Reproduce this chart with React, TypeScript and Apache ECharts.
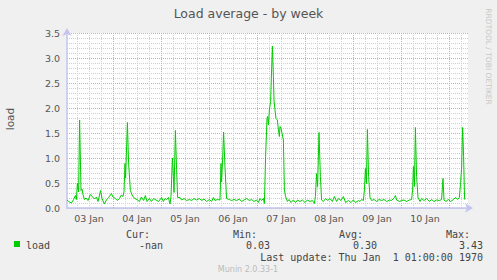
import React, { useEffect, useRef } from "react";
import * as echarts from "echarts";

// hours since 03 Jan 00:00
const hours = [
  1.0, 1.8, 3.2, 4.3, 5.2, 5.7, 6.2, 6.8, 7.3, 8.0, 8.5, 9.0, 9.7, 10.5, 11.5, 12.7, 13.8, 14.8, 15.7, 16.5,
  17.8, 18.5, 19.7, 20.7, 21.8, 23.2, 24.0, 25.2, 26.2, 27.2, 28.2, 29.0, 29.5, 30.0, 30.3, 31.2, 31.8, 32.7,
  33.5, 34.8, 36.0, 37.2, 38.2, 39.3, 40.2, 41.0, 42.2, 43.2, 44.3, 45.5, 46.8, 48.3, 49.2, 50.0, 50.8, 51.7,
  52.5, 53.0, 53.7, 54.2, 54.5, 55.2, 55.8, 56.3, 57.5, 58.3, 59.5, 60.8, 62.2, 63.3, 64.5, 65.8, 67.2, 68.3,
  69.5, 70.8, 72.2, 73.3, 74.2, 75.0, 76.2, 77.5, 78.0, 78.3, 78.8, 79.3, 80.0, 80.8, 82.2, 83.3, 84.5, 85.8,
  87.2, 88.3, 89.5, 90.8, 92.2, 93.3, 94.5, 95.8, 96.7, 97.5, 98.3, 99.2, 99.7, 100.3, 101.0, 101.3, 101.7,
  102.2, 102.8, 103.3, 103.7, 104.2, 104.5, 105.0, 105.5, 106.2, 106.7, 107.2, 107.5, 108.0, 108.7, 109.2,
  109.7, 110.3, 111.2, 112.0, 113.0, 114.2, 115.3, 116.3, 117.5, 118.7, 120.0, 121.2, 122.5, 123.7, 124.7,
  125.2, 125.8, 126.3, 127.0, 127.7, 128.3, 129.2, 130.3, 131.3, 132.5, 133.7, 134.7, 135.8, 136.7, 138.0,
  139.2, 140.3, 141.7, 143.0, 144.2, 145.3, 146.7, 147.5, 148.3, 149.2, 149.7, 150.2, 150.7, 151.2, 151.8,
  152.5, 153.3, 154.5, 155.8, 157.0, 158.3, 159.5, 160.8, 162.2, 163.3, 164.7, 165.2, 165.8, 167.2, 168.3,
  169.5, 170.8, 172.2, 173.3, 173.8, 174.2, 174.7, 175.2, 175.8, 176.5, 177.5, 178.3, 179.5, 180.8, 182.2,
  183.3, 184.5, 185.8, 187.2, 188.3, 189.0, 189.5, 190.5, 191.7, 192.8, 194.2, 195.3, 196.3, 197.2, 197.8,
  198.3, 198.8, 199.3, 199.8,
];

const loadValues = [
  0.16, 0.13, 0.1, 0.17, 0.25, 0.17, 0.5, 0.32, 1.76, 0.35, 0.38, 0.27, 0.17, 0.2, 0.15, 0.27, 0.22, 0.18, 0.22, 0.13,
  0.35, 0.19, 0.08, 0.16, 0.21, 0.29, 0.22, 0.19, 0.15, 0.19, 0.26, 0.23, 0.33, 0.89, 0.6, 1.71, 0.89, 0.35,
  0.26, 0.19, 0.17, 0.13, 0.22, 0.15, 0.25, 0.13, 0.19, 0.13, 0.19, 0.16, 0.13, 0.21, 0.13, 0.19, 0.17, 0.21,
  0.08, 0.23, 1.0, 0.63, 0.31, 1.55, 0.77, 0.21, 0.21, 0.16, 0.19, 0.15, 0.17, 0.15, 0.19, 0.16, 0.19, 0.15,
  0.18, 0.13, 0.17, 0.13, 0.21, 0.15, 0.17, 0.16, 0.89, 0.52, 0.96, 1.52, 0.8, 0.19, 0.17, 0.15, 0.17, 0.15,
  0.18, 0.13, 0.16, 0.19, 0.15, 0.17, 0.13, 0.16, 0.11, 0.19, 0.15, 0.19, 0.09, 1.03, 1.79, 1.83, 1.66,
  1.96, 2.13, 2.76, 3.24, 2.63, 2.16, 1.96, 1.79, 1.76, 1.56, 1.43, 1.63, 1.59, 1.46, 1.36,
  0.36, 0.23, 0.13, 0.17, 0.11, 0.16, 0.11, 0.16, 0.13, 0.16, 0.11, 0.16, 0.13, 0.15, 0.09,
  0.23, 0.69, 0.43, 1.51, 0.63, 0.16, 0.13, 0.19, 0.15, 0.19, 0.13, 0.23, 0.13, 0.19, 0.15,
  0.23, 0.11, 0.15, 0.11, 0.16, 0.11, 0.15, 0.13, 0.17, 0.15, 0.36, 0.79, 0.49, 1.57, 0.63,
  0.21, 0.15, 0.17, 0.13, 0.17, 0.15, 0.17, 0.13, 0.16, 0.15, 0.21, 0.25, 0.16, 0.13, 0.15,
  0.16, 0.13, 0.16, 0.17, 0.36, 0.83, 0.43, 1.61, 0.63, 0.21, 0.13, 0.19, 0.15, 0.19, 0.13,
  0.17, 0.13, 0.16, 0.15, 0.17, 0.59, 0.16, 0.13, 0.17, 0.13, 0.17, 0.21, 0.17, 0.21, 0.51,
  0.8, 1.61, 1.03, 0.17,
];

const dayLabels = ["03 Jan", "04 Jan", "05 Jan", "06 Jan", "07 Jan", "08 Jan", "09 Jan", "10 Jan"];
const dayLabelHours = [12, 36, 60, 84, 108, 132, 156, 180];
const minorGridHours = [6, 12, 18, 30, 36, 42, 54, 60, 66, 78, 84, 90, 102, 108, 114, 126, 132, 138, 150, 156, 162, 174, 180, 186, 198];
const majorGridHours = [24, 48, 72, 96, 120, 144, 168, 192];

const legendHeaders = ["Cur:", "Min:", "Avg:", "Max:"];
const legendValues = ["-nan", "0.03", "0.30", "3.43"];

export default function App() {
  const ref = useRef<HTMLDivElement>(null);
  useEffect(() => {
    document.body.style.margin = "0";
    const chart = echarts.init(ref.current!, null, { renderer: "svg" });
    const data = hours.map((h, i) => [h, loadValues[i]]);
    const mono = "DejaVu Sans Mono";
    const sans = "DejaVu Sans";
    const headerRight = [150, 257, 363, 470];
    const valueRight = [163, 270, 377, 483];
    const gridLines = [
      ...minorGridHours.map((h) => ({ xAxis: h, lineStyle: { color: "#cfcfcf", type: [1, 1], width: 1 } })),
      ...majorGridHours.map((h) => ({ xAxis: h, lineStyle: { color: "#eaa0a0", type: [1, 1], width: 1 } })),
    ];
    chart.setOption({
      animation: false,
      backgroundColor: "#f0f0f0",
      grid: {
        left: 67,
        right: 29,
        top: 33,
        bottom: 72,
        show: true,
        backgroundColor: "#ffffff",
        borderWidth: 0,
      },
      xAxis: {
        type: "value",
        min: 1,
        max: 201.5,
        axisLine: {
          show: true,
          lineStyle: { color: "#c4c4ee", width: 1.5 },
          symbol: ["none", "arrow"],
          symbolSize: [7, 8],
          symbolOffset: [0, 5],
        },
        axisTick: { show: false },
        splitLine: { show: false },
        axisLabel: {
          customValues: dayLabelHours,
          formatter: (v: number) => dayLabels[dayLabelHours.indexOf(Math.round(v))] ?? "",
          color: "#555",
          fontFamily: sans,
          fontSize: 9.5,
          margin: 5,
        },
      },
      yAxis: {
        type: "value",
        min: 0,
        max: 3.5,
        interval: 0.5,
        axisLine: {
          show: true,
          lineStyle: { color: "#c4c4ee", width: 1.5 },
          symbol: ["none", "arrow"],
          symbolSize: [7, 8],
          symbolOffset: [0, 5],
        },
        axisTick: { show: false },
        axisLabel: {
          formatter: (v: number) => v.toFixed(1),
          color: "#555",
          fontFamily: sans,
          fontSize: 9.5,
          margin: 7,
        },
        splitLine: { show: true, lineStyle: { color: "#eaa0a0", type: [1, 1], width: 1 } },
        minorTick: { show: false, splitNumber: 5 },
        minorSplitLine: { show: true, lineStyle: { color: "#cfcfcf", type: [1, 1], width: 1 } },
      },
      series: [
        {
          type: "line",
          data: [[1, 0]],
          symbol: "none",
          lineStyle: { opacity: 0 },
          silent: true,
          z: 1,
          markLine: {
            silent: true,
            z: 1,
            symbol: ["none", "none"],
            label: { show: false },
            emphasis: { disabled: true },
            data: gridLines,
          },
        },
        {
          type: "line",
          name: "load",
          data,
          symbol: "none",
          z: 3,
          lineStyle: { color: "#00cc00", width: 1 },
          itemStyle: { color: "#00cc00" },
        },
      ],
      graphic: [
        {
          type: "text",
          x: 248.5,
          y: 13,
          style: { text: "Load average - by week", fill: "#555", font: `12.5px "${sans}"`, align: "center", verticalAlign: "middle" },
        },
        {
          type: "text",
          x: 10,
          y: 119,
          rotation: Math.PI / 2,
          style: { text: "load", fill: "#555", font: `10.5px "${sans}"`, align: "center", verticalAlign: "middle" },
        },
        {
          type: "text",
          x: 488.5,
          y: 56.5,
          rotation: -Math.PI / 2,
          style: { text: "RRDTOOL / TOBI OETIKER", fill: "#c8c8c8", font: `7.5px "${sans}"`, align: "center", verticalAlign: "middle" },
        },
        { type: "rect", shape: { x: 14, y: 241, width: 6, height: 6 }, style: { fill: "#00cc00" } },
        {
          type: "text",
          x: 26,
          y: 245,
          style: { text: "load", fill: "#444", font: `10px "${mono}"`, align: "left", verticalAlign: "middle" },
        },
        ...legendHeaders.map((t, i) => ({
          type: "text",
          x: headerRight[i],
          y: 234,
          style: { text: t, fill: "#444", font: `10px "${mono}"`, align: "right", verticalAlign: "middle" },
        })),
        ...legendValues.map((t, i) => ({
          type: "text",
          x: valueRight[i],
          y: 245,
          style: { text: t, fill: "#444", font: `10px "${mono}"`, align: "right", verticalAlign: "middle" },
        })),
        {
          type: "text",
          x: 483,
          y: 257,
          style: { text: "Last update: Thu Jan  1 01:00:00 1970", fill: "#444", font: `10px "${mono}"`, align: "right", verticalAlign: "middle" },
        },
        {
          type: "text",
          x: 248,
          y: 269,
          style: { text: "Munin 2.0.33-1", fill: "#bbbbbb", font: `8px "${sans}"`, align: "center", verticalAlign: "middle" },
        },
      ],
    });
    return () => chart.dispose();
  }, []);
  return <div ref={ref} style={{ width: 497, height: 280, position: "absolute", left: 0, top: 0 }} />;
}
